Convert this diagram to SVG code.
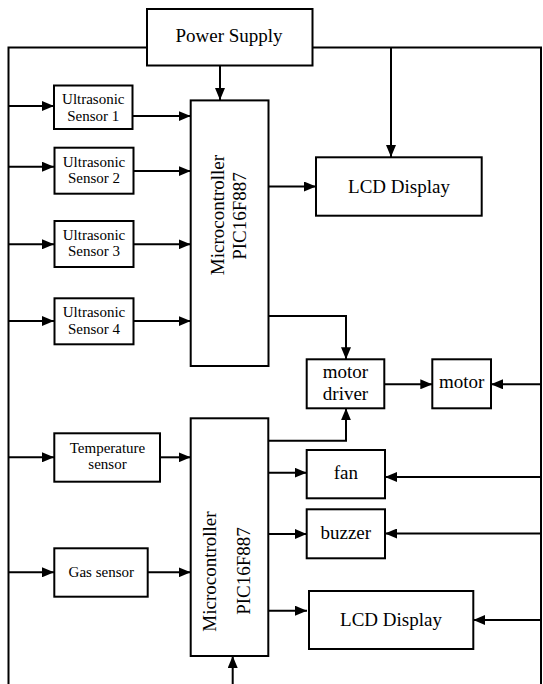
<svg xmlns="http://www.w3.org/2000/svg" width="543" height="684" viewBox="0 0 543 684">
<defs>
<marker id="ah" markerUnits="userSpaceOnUse" markerWidth="12" markerHeight="10" refX="12" refY="5" orient="auto">
<path d="M0,0 L12,5 L0,10 z" fill="#000"/>
</marker>
<style>
rect{fill:#fff;stroke:#000;stroke-width:2}
text{font-family:"Liberation Serif","Times New Roman",serif;fill:#000;text-anchor:middle}
.s{font-size:15px}
.b{font-size:19px}
#connectors path{fill:none;stroke:#000;stroke-width:2}
.a{marker-end:url(#ah)}
</style>
</defs>
<rect width="543" height="684" style="fill:#fff;stroke:none"/>
<g id="connectors">
<path d="M147,47.5 H8.5 V684"/>
<path d="M312,47.5 H541 V684"/>
<path class="a" d="M391,47.5 V157"/>
<path class="a" d="M220,65 V100"/>
<path class="a" d="M8.5,106 H54"/>
<path class="a" d="M8.5,166.7 H54"/>
<path class="a" d="M8.5,244.3 H54"/>
<path class="a" d="M8.5,321 H54"/>
<path class="a" d="M8.5,457.3 H54"/>
<path class="a" d="M8.5,572.3 H54"/>
<path class="a" d="M132.5,116 H190.7"/>
<path class="a" d="M133.5,171 H190.7"/>
<path class="a" d="M133.5,244.3 H190.7"/>
<path class="a" d="M133.5,321 H190.7"/>
<path class="a" d="M160,457.3 H190.7"/>
<path class="a" d="M147.7,572.3 H190.7"/>
<path class="a" d="M268.5,186.5 H316"/>
<path class="a" d="M268.5,316 H346 V359.3"/>
<path class="a" d="M268.5,440.7 H346 V408.3"/>
<path class="a" d="M384.3,384.3 H432.3"/>
<path class="a" d="M541,384.3 H491"/>
<path class="a" d="M268.5,472.7 H306.7"/>
<path class="a" d="M541,477 H385"/>
<path class="a" d="M268.5,534 H306.7"/>
<path class="a" d="M541,533.5 H385"/>
<path class="a" d="M268.5,610.7 H307"/>
<path class="a" d="M541,620 H473.3"/>
<path class="a" d="M232.7,684 V656"/>
</g>
<g id="power-supply">
<rect x="147" y="9" width="165.5" height="56.5"/>
<text class="b" x="229" y="42">Power Supply</text>
</g>
<g id="sensor1">
<rect x="54" y="85.5" width="78.5" height="43.5"/>
<text class="s" x="93.3" y="104">Ultrasonic</text>
<text class="s" x="93.3" y="121">Sensor 1</text>
</g>
<g id="sensor2">
<rect x="54.5" y="147.7" width="79" height="46"/>
<text class="s" x="94" y="166.7">Ultrasonic</text>
<text class="s" x="94" y="183.3">Sensor 2</text>
</g>
<g id="sensor3">
<rect x="54.5" y="221" width="79" height="46"/>
<text class="s" x="94" y="239.5">Ultrasonic</text>
<text class="s" x="94" y="256">Sensor 3</text>
</g>
<g id="sensor4">
<rect x="54.5" y="298.3" width="79" height="46"/>
<text class="s" x="94" y="317">Ultrasonic</text>
<text class="s" x="94" y="334">Sensor 4</text>
</g>
<g id="microcontroller1">
<rect x="190.7" y="100.4" width="77.8" height="265.6"/>
<text class="b" x="224" y="215" transform="rotate(-90 224 215)">Microcontroller</text>
<text class="b" x="245.5" y="216" transform="rotate(-90 245.5 216)">PIC16F887</text>
</g>
<g id="lcd1">
<rect x="316" y="157.3" width="165.7" height="58.4"/>
<text class="b" x="399" y="193.3">LCD Display</text>
</g>
<g id="motor-driver">
<rect x="306.7" y="359.3" width="77.6" height="49"/>
<text class="b" x="345.5" y="378.3">motor</text>
<text class="b" x="345.5" y="400">driver</text>
</g>
<g id="motor">
<rect x="432.3" y="359.3" width="58.7" height="49"/>
<text class="b" x="461.7" y="388.3">motor</text>
</g>
<g id="temperature-sensor">
<rect x="54.3" y="433.3" width="105.7" height="48.4"/>
<text class="s" x="107.5" y="452.7">Temperature</text>
<text class="s" x="107.5" y="469.3">sensor</text>
</g>
<g id="gas-sensor">
<rect x="54.3" y="548.3" width="93.4" height="48.4"/>
<text class="s" x="101.3" y="576.7">Gas sensor</text>
</g>
<g id="microcontroller2">
<rect x="190.7" y="418.3" width="77.6" height="237.7"/>
<text class="b" x="216" y="571.5" transform="rotate(-90 216 571.5)">Microcontroller</text>
<text class="b" x="250" y="571" transform="rotate(-90 250 571)">PIC16F887</text>
</g>
<g id="fan">
<rect x="306.7" y="450" width="78.3" height="48.3"/>
<text class="b" x="345.8" y="479">fan</text>
</g>
<g id="buzzer">
<rect x="306.7" y="509.3" width="78.3" height="49"/>
<text class="b" x="345.8" y="539.3">buzzer</text>
</g>
<g id="lcd2">
<rect x="309" y="591" width="164.3" height="58"/>
<text class="b" x="391" y="626">LCD Display</text>
</g>
</svg>
